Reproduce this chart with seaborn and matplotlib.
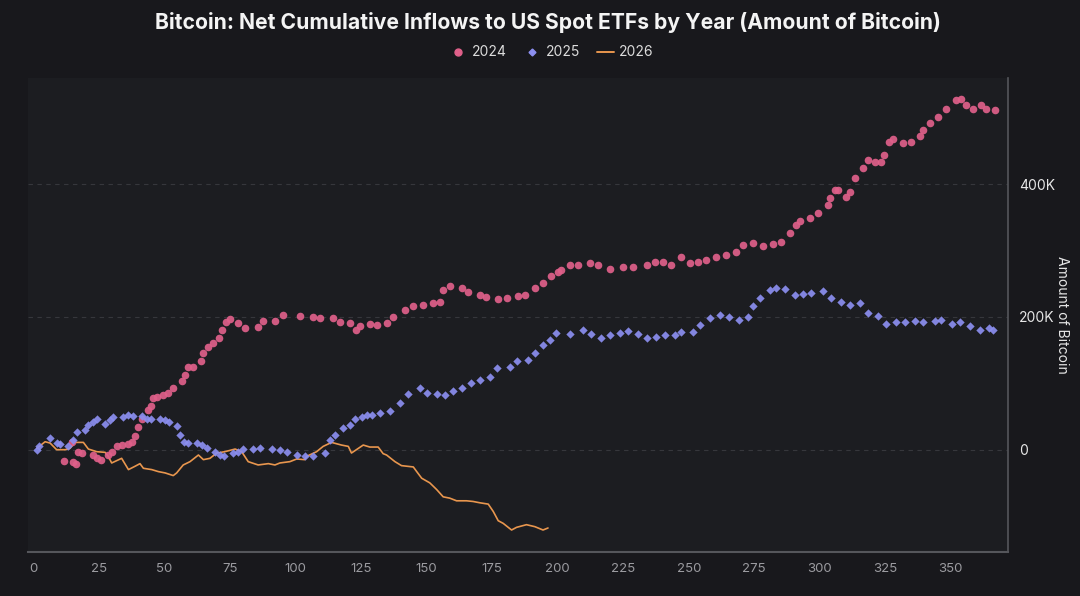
import matplotlib
matplotlib.use("Agg")
import matplotlib.pyplot as plt
import seaborn as sns
import pandas as pd
from matplotlib.ticker import FuncFormatter, FixedLocator
from matplotlib.lines import Line2D

# ---------------- data (day of year, net cumulative inflow in thousand BTC) ----------------
days_2024 = [14.6, 11.7, 15.2, 16.1, 17.1, 18.4, 22.8, 24.1, 25.7, 28.5, 29.8, 31.7, 33.6, 36.2,
             37.7, 38.7, 40.0, 41.3, 43.8, 44.8, 45.7, 47.0, 49.5, 51.4, 53.3, 56.5, 57.8, 59.0,
             61.0, 63.9, 64.8, 66.7, 68.6, 70.7, 72.0, 73.3, 74.9, 78.1, 80.7, 85.7, 87.6, 92.1,
             95.3, 101.6, 106.7, 109.3, 114.3, 116.9, 120.7, 123.0, 124.5, 128.3, 130.9, 134.7,
             137.2, 141.7, 144.9, 148.7, 152.5, 155.0, 156.3, 158.9, 163.3, 165.8, 170.3, 172.8,
             177.3, 180.5, 184.9, 187.5, 191.3, 194.4, 197.6, 200.2, 201.4, 204.6, 207.8, 212.2,
             215.4, 220.0, 225.0, 228.8, 233.9, 237.1, 240.2, 243.4, 247.2, 250.4, 253.5, 256.7,
             260.6, 264.4, 268.2, 270.7, 274.5, 278.3, 282.1, 285.4, 288.5, 291.1, 292.3, 296.1,
             299.3, 303.2, 303.8, 305.7, 306.9, 310.1, 311.7, 313.3, 316.5, 318.4, 320.9, 323.5,
             324.7, 326.6, 327.9, 331.7, 334.9, 338.1, 339.4, 341.9, 345.1, 348.3, 352.1, 354.0,
             355.9, 358.5, 361.7, 363.6, 366.8]
btc_2024 = [12, -17, -18, -21, -3, -5, -8, -13, -15, -8, -3, 5, 7, 9,
            12, 21, 34, 47, 60, 66, 78, 80, 83, 85, 93, 103, 113, 125,
            125, 133, 145, 155, 161, 168, 181, 193, 197, 191, 184, 185, 194, 194,
            203, 201, 200, 198, 199, 193, 191, 180, 186, 189, 188, 191,
            200, 211, 217, 218, 221, 223, 240, 246, 243, 238, 233, 230,
            227, 228, 231, 233, 243, 251, 261, 268, 271, 278, 278, 281,
            278, 272, 275, 275, 278, 283, 283, 278, 291, 281, 283, 286,
            291, 293, 298, 308, 311, 307, 310, 313, 326, 339, 344, 349,
            356, 369, 379, 391, 391, 381, 389, 409, 424, 436, 433, 434,
            444, 464, 468, 462, 464, 472, 482, 492, 502, 514, 527, 529,
            519, 514, 519, 514, 512]

days_2025 = [1.2, 2.1, 6.3, 8.8, 10.1, 13.3, 15.2, 16.5, 19.6, 20.9, 22.8, 24.1, 27.3, 29.2,
             30.4, 34.2, 36.2, 38.1, 41.3, 43.2, 44.8, 48.2, 50.2, 51.7, 54.6, 55.9, 57.5, 59.0,
             62.2, 64.1, 66.1, 69.2, 71.1, 72.8, 76.2, 78.1, 80.0, 83.8, 86.4, 90.8, 94.0, 96.6,
             100.4, 103.5, 106.7, 111.2, 113.1, 115.0, 118.2, 120.7, 122.6, 125.2, 127.1, 129.0,
             132.1, 136.0, 139.8, 142.9, 147.4, 150.0, 153.8, 156.9, 160.1, 163.3, 167.1, 170.3,
             174.1, 176.7, 181.7, 184.3, 188.7, 191.3, 194.4, 197.0, 199.5, 204.6, 209.7, 212.9,
             216.7, 219.9, 223.7, 226.8, 230.6, 233.9, 237.7, 240.8, 244.6, 247.2, 251.6, 254.2,
             258.0, 261.8, 265.5, 269.3, 272.6, 274.5, 277.1, 280.9, 283.4, 286.6, 290.4, 293.6,
             296.8, 301.2, 304.4, 308.2, 311.4, 315.2, 318.4, 322.2, 325.4, 329.2, 332.4, 336.2,
             339.4, 343.9, 346.4, 350.3, 353.5, 357.3, 361.2, 364.4, 366.3]
btc_2025 = [0, 5, 17, 10, 9, 5, 15, 27, 30, 37, 42, 46, 39, 45,
            50, 49, 52, 51, 51, 46, 47, 47, 45, 41, 35, 22, 12, 10,
            10, 7, 2, -3, -8, -10, -5, -3, 1, 1, 2, 1, 0, -3,
            -8, -10, -9, -5, 15, 22, 32, 37, 47, 50, 52, 53,
            55, 59, 70, 84, 93, 85, 84, 83, 88, 93, 100, 105,
            110, 123, 125, 133, 135, 145, 158, 166, 176, 175, 180, 175,
            168, 173, 176, 179, 175, 169, 170, 173, 173, 178, 178, 188,
            198, 203, 200, 195, 200, 216, 228, 241, 243, 242, 233, 234,
            236, 239, 228, 223, 218, 221, 206, 202, 190, 192, 193, 194,
            192, 194, 195, 189, 192, 187, 180, 183, 180]

days_2026 = [1.2, 4.4, 6.3, 8.8, 12.0, 13.9, 15.8, 19.0, 20.9, 24.1, 27.3, 28.5, 29.8, 33.6,
             36.2, 38.7, 40.6, 41.9, 45.1, 47.6, 50.2, 53.3, 54.6, 57.1, 59.7, 62.9, 64.8, 67.3,
             69.9, 73.0, 76.9, 79.4, 81.9, 85.7, 89.6, 92.1, 94.0, 97.8, 100.4, 103.5, 104.2,
             108.0, 110.5, 113.7, 117.5, 120.1, 121.3, 125.8, 128.3, 131.5, 133.4, 134.7, 137.9,
             140.4, 144.9, 146.2, 148.1, 151.2, 153.8, 156.3, 158.8, 161.4, 165.2, 167.7, 170.3,
             173.5, 175.4, 177.3, 179.2, 182.4, 184.3, 188.1, 191.3, 194.4, 196.3]
btc_2026 = [2, 12, 10, 0, 0, 2, 11, 11, 1, -3, -4, -10, -20, -13,
            -30, -25, -21, -28, -30, -33, -35, -39, -35, -23, -18, -8, -15, -13,
            -5, -3, 1, -3, -18, -23, -21, -23, -20, -18, -14, -15, -10,
            -3, 5, 11, 7, 5, -5, 7, 4, 4, -6, -8, -18,
            -24, -26, -33, -43, -50, -60, -71, -73, -77, -77, -78, -80,
            -82, -93, -107, -111, -121, -117, -113, -116, -121, -118]

years = ["2024", "2025", "2026"]
x_ticks = [0, 25, 50, 75, 100, 125, 150, 175, 200, 225, 250, 275, 300, 325, 350]
y_ticks = [0, 200, 400]

# ---------------- style ----------------
FIG_BG = "#18181c"
AX_BG = "#1c1d21"
PINK = "#e0608a"
BLUE = "#8c8ff0"
ORANGE = "#e8964e"

sns.set_theme(style="dark")
plt.rcParams['font.family'] = ['Inter', 'DejaVu Sans']

df24 = pd.DataFrame({"day": days_2024, "btc": btc_2024})
df25 = pd.DataFrame({"day": days_2025, "btc": btc_2025})
df26 = pd.DataFrame({"day": days_2026, "btc": btc_2026})

fig = plt.figure(figsize=(10.8, 5.96), dpi=100, facecolor=FIG_BG)
ax = fig.add_axes([0.026, 0.074, 0.907, 0.795])
ax.set_facecolor(AX_BG)

sns.lineplot(data=df26, x="day", y="btc", color=ORANGE, linewidth=1.2, ax=ax, zorder=2)
sns.scatterplot(data=df24, x="day", y="btc", color=PINK, marker="o", s=30,
                linewidth=0, alpha=0.92, ax=ax, zorder=3)
sns.scatterplot(data=df25, x="day", y="btc", color=BLUE, marker="D", s=18,
                linewidth=0, alpha=0.92, ax=ax, zorder=3)

ax.set_xlim(-2.1, 371.7)
ax.set_ylim(-154, 560)

ax.xaxis.set_major_locator(FixedLocator(x_ticks))
ax.yaxis.set_major_locator(FixedLocator(y_ticks))
ax.yaxis.tick_right()
ax.yaxis.set_label_position("right")
ax.yaxis.set_major_formatter(FuncFormatter(lambda v, p: "0" if v == 0 else f"{int(v)}K"))

ax.tick_params(axis="x", colors="#9b9ba0", labelsize=9.5, length=0, pad=8)
ax.tick_params(axis="y", colors="#e6e6e6", labelsize=10, length=0, pad=8)

ax.set_xlabel("")
ax.set_ylabel("Amount of Bitcoin", color="#e6e6e6", fontsize=10, rotation=270, labelpad=10)

ax.grid(False)
for yv in y_ticks:
    ax.axhline(yv, color="#36373c", linewidth=0.8, linestyle=(0, (4, 4)), zorder=1)

for side in ["top", "left"]:
    ax.spines[side].set_visible(False)
ax.spines["bottom"].set_color("#55565b")
ax.spines["bottom"].set_linewidth(1.5)
ax.spines["right"].set_color("#55565b")
ax.spines["right"].set_linewidth(1.2)

fig.text(0.507, 0.962, "Bitcoin: Net Cumulative Inflows to US Spot ETFs by Year (Amount of Bitcoin)",
         color="#f4f4f4", fontsize=15.2, fontweight="bold", ha="center", va="center")

handles = [
    Line2D([], [], marker="o", linestyle="none", color=PINK, markersize=5),
    Line2D([], [], marker="D", linestyle="none", color=BLUE, markersize=3.5),
    Line2D([], [], color=ORANGE, linewidth=1.4),
]
leg = fig.legend(handles, years, loc="center", bbox_to_anchor=(0.511, 0.912), ncol=3,
                 frameon=False, fontsize=10, labelcolor="#dcdcdc", handlelength=1.2,
                 handletextpad=0.4, columnspacing=1.2)

fig.savefig("out.png", dpi=100, facecolor=FIG_BG)
